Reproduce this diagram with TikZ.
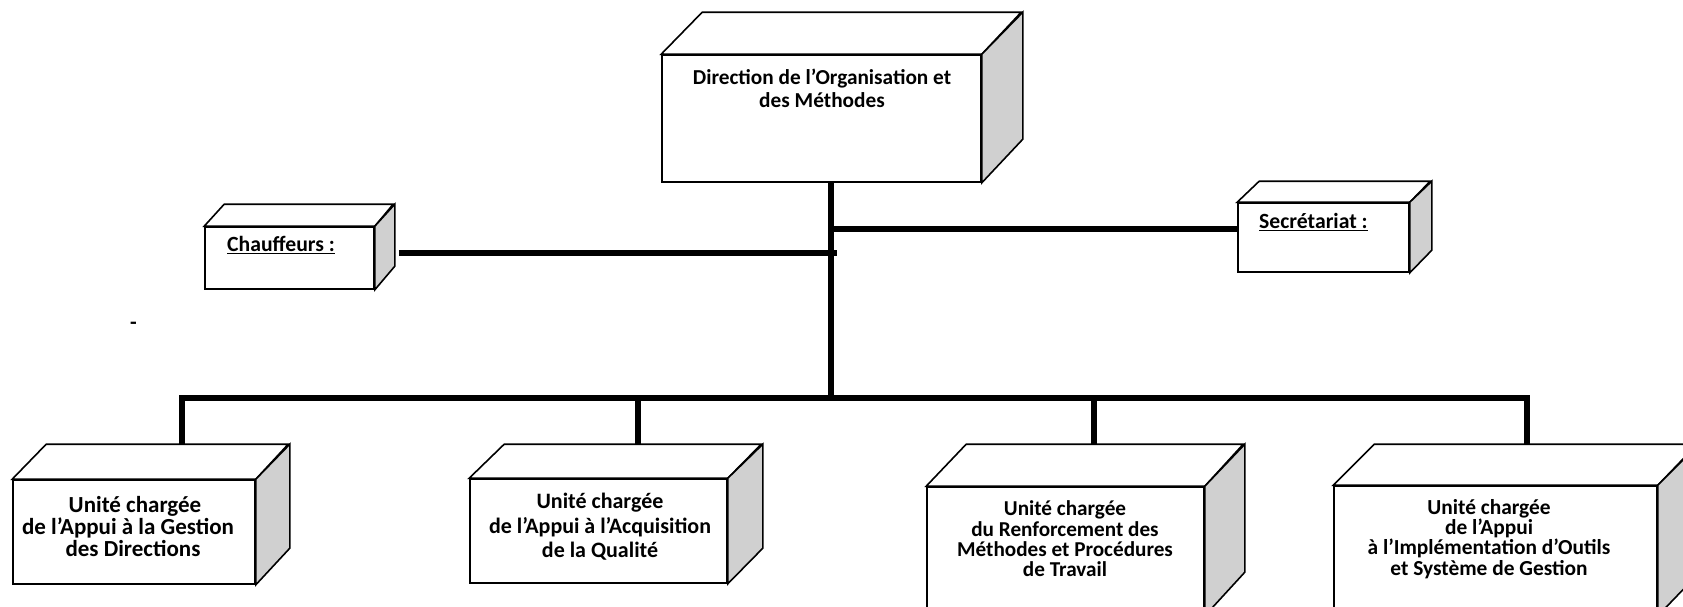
\documentclass[tikz,border=0pt]{standalone}
\usepackage{fontspec}
\setmainfont{Carlito}
\usetikzlibrary{calc,fit}

\definecolor{sidegray}{RGB}{208,208,208}

\tikzset{
  edge/.style={draw=black, line width=1.6pt, line join=miter},
  frontface/.style={edge, fill=white, inner sep=0pt, rectangle},
  bus/.style={line width=5.5pt, draw=black},
  lbl/.style 2 args={font=\bfseries\fontsize{#1}{#2}\selectfont, align=center, inner sep=0pt},
  tag/.style={font=\bfseries\fontsize{21.7}{22}\selectfont, anchor=west, inner sep=0pt},
}

% #1 name, (#2,#3) top-left and (#4,#5) bottom-right of the front face, (#6,#7) depth
\newcommand{\cuboid}[7]{%
  \coordinate (#1-a) at (#2,#3);
  \coordinate (#1-b) at (#4,#5);
  \node[frontface, fit=(#1-a)(#1-b)] (#1) {};
  \draw[edge, fill=white] (#1.north west) -- ++(#6,-#7) -- ++(#4-#2,0) -- (#1.north east) -- cycle;
  \draw[edge, fill=sidegray] (#1.north east) -- ++(#6,-#7) -- ++(0,#5-#3) -- (#1.south east) -- cycle;
  \coordinate (#1-back) at ($(#1.north west)+(#6,-#7)$);
}

\begin{document}
\begin{tikzpicture}[x=1pt, y=-1pt]
  \useasboundingbox (0,0) rectangle (1683,606);
  \clip (0,0) rectangle (1683,606);

  % boxes
  \cuboid{dir}{662}{55}{981}{182}{41}{42}
  \cuboid{chauff}{205}{227}{374}{289}{20}{22}
  \cuboid{secr}{1238}{203}{1409}{272}{22}{21}
  \cuboid{u1}{13}{480}{255}{584}{34}{35}
  \cuboid{u2}{470}{479}{727}{583}{35}{34}
  \cuboid{u3}{927}{487}{1204}{615}{40}{42}
  \cuboid{u4}{1334}{486}{1657}{615}{41}{41}

  % labels
  \node[lbl={21.3}{23}] (tdir) at (822,88) {Direction de l’Organisation et\\des Méthodes};
  \node[tag] (tchauff) at (227,245) {\underline{Chauffeurs :}};
  \node[tag] (tsecr) at (1259,222) {\underline{Secrétariat :}};
  \node[lbl={23}{22}] (tu1) at (128,527) {\hspace*{14pt}Unité chargée\\de l’Appui à la Gestion\\\hspace*{10pt}des Directions};
  \node[lbl={22}{24.5}] (tu2) at (600,527) {Unité chargée\\de l’Appui à l’Acquisition\\de la Qualité};
  \node[lbl={21.2}{20.3}] (tu3) at (1065,539) {Unité chargée\\du Renforcement des\\Méthodes et Procédures\\de Travail};
  \node[lbl={21.4}{20.3}] (tu4) at (1489,539) {Unité chargée\\de l’Appui\\à l’Implémentation d’Outils\\et Système de Gestion};
  \node[tag] (dash) at (130,326) {-};

  % junction points
  \coordinate (trunk) at (831,398);
  \coordinate (sj) at (831,229);
  \coordinate (cj) at (837,253);
  \coordinate (busL) at (179.25,398);
  \coordinate (busR) at (1529.75,398);
  \coordinate (d1) at (182,398);
  \coordinate (d2) at (638,398);
  \coordinate (d3) at (1094,398);
  \coordinate (d4) at (1527,398);

  % connectors
  \draw[bus] (trunk |- dir.south) -- (trunk);
  \draw[bus] (sj) -- (secr.west |- sj);
  \draw[bus] ([xshift=24pt]chauff.east |- cj) -- (cj);
  \draw[bus] (busL) -- (busR);
  \draw[bus] (d1) -- (d1 |- u1-back);
  \draw[bus] (d2) -- (d2 |- u2-back);
  \draw[bus] (d3) -- (d3 |- u3-back);
  \draw[bus] (d4) -- (d4 |- u4-back);
\end{tikzpicture}
\end{document}
